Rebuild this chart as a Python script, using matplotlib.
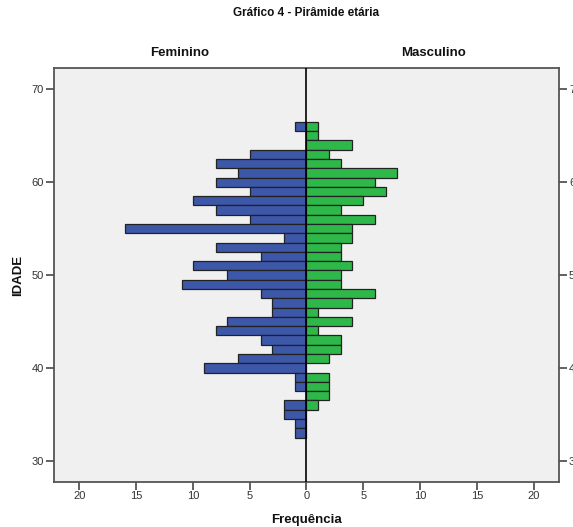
import matplotlib
matplotlib.use("Agg")
import matplotlib.pyplot as plt
import numpy as np

ages = list(range(66, 32, -1))
feminino = [1, 0, 0, 5, 8, 6, 8, 5, 10, 8, 5, 16, 2, 8, 4, 10, 7,
            11, 4, 3, 3, 7, 8, 4, 3, 6, 9, 1, 1, 0, 2, 2, 1, 1]
masculino = [1, 1, 4, 2, 3, 8, 6, 7, 5, 3, 6, 4, 4, 3, 3, 4, 3,
             3, 6, 4, 1, 4, 1, 3, 3, 2, 0, 2, 2, 2, 1, 0, 0, 0]
x_ticks = [-20, -15, -10, -5, 0, 5, 10, 15, 20]
y_ticks = [30, 40, 50, 60, 70]

plt.rcParams['font.family'] = ['Liberation Sans', 'DejaVu Sans']

fig = plt.figure(figsize=(5.73, 5.27), dpi=100)
ax = fig.add_axes([0.0937, 0.086, 0.8824, 0.785])
ax.set_facecolor('#f0f0f0')

fem = np.array(feminino)
mas = np.array(masculino)
ag = np.array(ages)
mf = fem > 0
mm = mas > 0
ax.barh(ag[mf], -fem[mf], height=1.0, color='#3d57a9', edgecolor='#222222', linewidth=0.9, zorder=2)
ax.barh(ag[mm], mas[mm], height=1.0, color='#2fb84a', edgecolor='#222222', linewidth=0.9, zorder=2)
ax.axvline(0, color='black', linewidth=1.2, zorder=3)

ax.set_xlim(-22.25, 22.25)
ax.set_ylim(27.75, 72.3)
ax.set_xticks(x_ticks)
ax.set_xticklabels([str(abs(t)) for t in x_ticks])
ax.set_yticks(y_ticks)
ax.set_yticklabels([str(t) for t in y_ticks])
ax.tick_params(axis='both', direction='out', length=6, width=1.3, color='#555555',
               labelsize=8, labelcolor='#333333', pad=1)
ax.tick_params(axis='y', right=True, labelright=True)
for s in ax.spines.values():
    s.set_color('#555555')
    s.set_linewidth(1.3)

fig.text(306/573, 1 - 13/527, 'Gráfico 4 - Pirâmide etária', ha='center', va='center',
         fontsize=8.5, fontweight='bold', color='#111111')
fig.text(180/573, 1 - 53/527, 'Feminino', ha='center', va='center',
         fontsize=9.5, fontweight='bold', color='#111111')
fig.text(433/573, 1 - 53/527, 'Masculino', ha='center', va='center',
         fontsize=9.5, fontweight='bold', color='#111111')
fig.text(306/573, 1 - 520/527, 'Frequência', ha='center', va='center',
         fontsize=9.5, fontweight='bold', color='#111111')
fig.text(18/573, 1 - 275/527, 'IDADE', ha='center', va='center', rotation=90,
         fontsize=9.5, fontweight='bold', color='#111111')

fig.savefig('out.png', dpi=100)
